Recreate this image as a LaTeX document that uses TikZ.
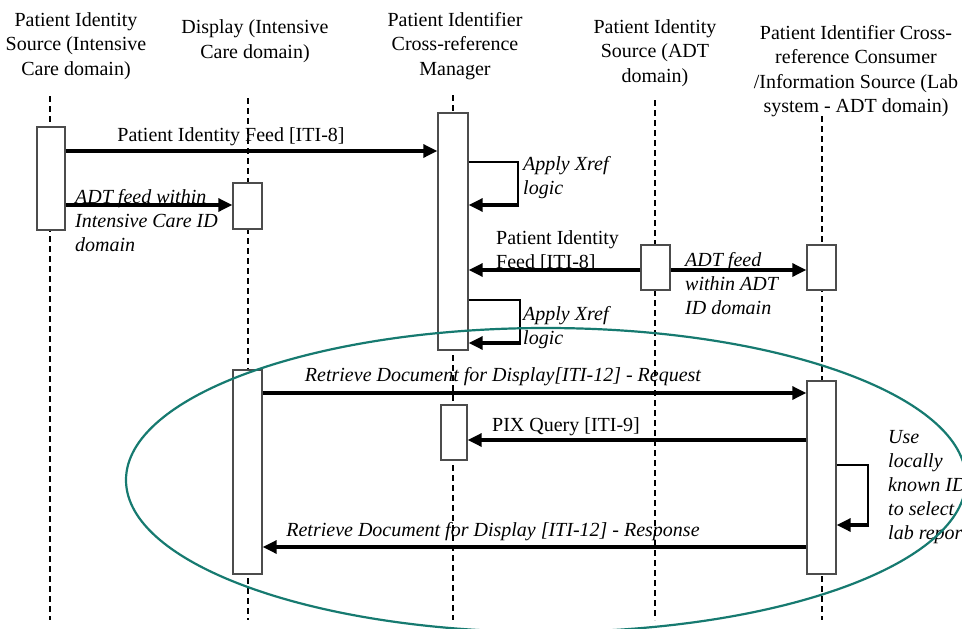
\documentclass[tikz,border=0pt]{standalone}
\usepackage{fontspec}
\setmainfont{Liberation Serif}
\usetikzlibrary{arrows.meta,positioning}
\definecolor{ringteal}{RGB}{22,122,112}

\begin{document}
\begin{tikzpicture}[x=1pt,y=-1pt,
    font=\fontsize{20}{24.5}\selectfont,
    lifeline/.style={black,line width=1.8pt,dash pattern=on 6pt off 4pt},
    actbox/.style={draw=black!70,line width=1.4pt,fill=white,inner sep=0pt,minimum width=29pt},
    msg/.style={line width=3.2pt,-{Triangle[length=14pt,width=13pt]}},
    selfmsg/.style={line width=1.1pt},
    head/.style={align=center,inner sep=0pt},
    lbl/.style={inner sep=0pt,align=left,anchor=west,font=\fontsize{20}{24}\selectfont\itshape}]
  \clip (0,0) rectangle (962,629);
  \fill[white] (0,0) rectangle (962,629);

  % headers
  \node[head] (h1) at (76,46) {Patient Identity\\Source (Intensive\\Care domain)};
  \node[head] (h2) at (255,41) {Display (Intensive\\Care domain)};
  \node[head] (h3) at (455,46) {Patient Identifier\\Cross-reference\\Manager};
  \node[head] (h4) at (655,53) {Patient Identity\\Source (ADT\\domain)};
  \node[head] (h5) at (856,71) {Patient Identifier Cross-\\reference Consumer\\/Information Source (Lab\\system - ADT domain)};

  % lifelines
  \draw[lifeline] (50,96) -- (50,620);
  \draw[lifeline] (248,98) -- (248,620);
  \draw[lifeline] (453,95) -- (453,620);
  \draw[lifeline] (655,100) -- (655,620);
  \draw[lifeline] (822,116) -- (822,620);

  % activations
  \node[actbox,minimum width=28pt,minimum height=103pt] (a1) at (51,178.5) {};
  \node[actbox,minimum height=46pt] (a2) at (247.5,206) {};
  \node[actbox,minimum width=30pt,minimum height=237pt] (a3) at (453,231.5) {};
  \node[actbox,minimum height=45pt] (a4) at (655.5,267.5) {};
  \node[actbox,minimum height=45pt] (a5) at (821.5,267.5) {};
  \node[actbox,minimum height=204pt] (b2) at (247.5,472) {};
  \node[actbox,minimum width=26pt,minimum height=55pt] (b3) at (454,432.5) {};
  \node[actbox,minimum height=193pt] (b5) at (821.5,477.5) {};

  % messages, upper part
  \draw[msg] (a1.east |- 0,151) -- (a3.west |- 0,151);
  \node[inner sep=0pt] (m1) at (231,137) {Patient Identity Feed [ITI-8]};
  \coordinate (x1) at (518,162);
  \draw[selfmsg] (a3.east |- x1) -- (x1) -- (518,205);
  \draw[msg] (519,205) -- (a3.east |- 0,205);
  \node[lbl] (m2) at (523,178) {Apply Xref\\logic};
  \draw[msg] (a1.east |- 0,205) -- (a2.west |- 0,205);
  \node[lbl] (m3) at (75,221) {ADT feed within\\Intensive Care ID\\domain};
  \draw[msg] (a4.west |- 0,270) -- (a3.east |- 0,270);
  \node[inner sep=0pt,align=left,anchor=west] (m4) at (496,251) {Patient Identity\\Feed [ITI-8]};
  \draw[msg] (a4.east |- 0,270) -- (a5.west |- 0,270);
  \node[lbl] (m5) at (685,284) {ADT feed\\within ADT\\ID domain};
  \coordinate (x2) at (520,300);
  \draw[selfmsg] (a3.east |- x2) -- (x2) -- (520,343);
  \draw[msg] (521,343) -- (a3.east |- 0,343);
  \node[lbl] (m6) at (523,328) {Apply Xref\\logic};

  % messages, lower part
  \draw[msg] (b2.east |- 0,393) -- (b5.west |- 0,393);
  \node[lbl,anchor=center] (m7) at (503,377) {Retrieve Document for Display[ITI-12] - Request};
  \draw[msg] (b5.west |- 0,440) -- (b3.east |- 0,440);
  \node[inner sep=0pt] (m8) at (566,427) {PIX Query [ITI-9]};
  \coordinate (x3) at (868,465);
  \draw[selfmsg] (b5.east |- x3) -- (x3) -- (868,525);
  \draw[msg] (869,525) -- (b5.east |- 0,525);
  \node[lbl] (m9) at (888,487) {Use\\locally\\known ID\\to select\\lab report};
  \draw[msg] (b5.west |- 0,547) -- (b2.east |- 0,547);
  \node[lbl,anchor=center] (m10) at (493,532) {Retrieve Document for Display [ITI-12] - Response};

  % highlighted region
  \draw[ringteal,line width=2.2pt] (546,480) ellipse [x radius=420,y radius=152];
\end{tikzpicture}
\end{document}
